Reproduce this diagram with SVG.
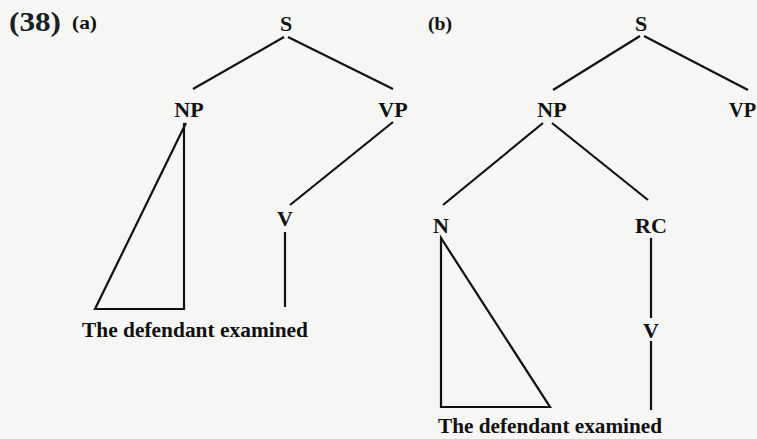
<svg xmlns="http://www.w3.org/2000/svg" width="757" height="439" viewBox="0 0 757 439">
<style>
.bg{fill:#f6f6f4}
.lbl{font-family:"Liberation Serif","Times New Roman",serif;font-weight:bold;font-size:22px;fill:#111;text-anchor:middle}
.leaf{font-family:"Liberation Serif","Times New Roman",serif;font-weight:bold;font-size:22px;fill:#111}
.num{font-family:"Liberation Serif","Times New Roman",serif;font-weight:bold;font-size:27px;fill:#1a1f22}
.sub{font-family:"Liberation Serif","Times New Roman",serif;font-weight:bold;font-size:19px;fill:#111}
.ln{stroke:#111;stroke-width:2.2;fill:none;stroke-linejoin:miter}
</style>
<rect class="bg" x="0" y="0" width="757" height="439"/>
<text class="num" x="9" y="31" textLength="52" lengthAdjust="spacingAndGlyphs">(38)</text>
<text class="sub" x="72" y="29" textLength="25" lengthAdjust="spacingAndGlyphs">(a)</text>
<text class="sub" x="428" y="30" textLength="24" lengthAdjust="spacingAndGlyphs">(b)</text>
<g id="connectors">
  <line class="ln" x1="284" y1="37" x2="193" y2="89"/>
  <line class="ln" x1="288" y1="37" x2="393" y2="89"/>
  <path class="ln" d="M186,123 L95,309 L184,309 L184,123"/>
  <line class="ln" x1="393" y1="122" x2="290" y2="205"/>
  <line class="ln" x1="285" y1="232" x2="285" y2="307"/>
  <line class="ln" x1="640" y1="36" x2="553" y2="90"/>
  <line class="ln" x1="644" y1="36" x2="748" y2="90"/>
  <line class="ln" x1="543" y1="123" x2="443" y2="205"/>
  <line class="ln" x1="552" y1="123" x2="648" y2="200"/>
  <path class="ln" d="M441,238 L441,407 L550,407 Z"/>
  <line class="ln" x1="651" y1="238" x2="651" y2="318"/>
  <line class="ln" x1="651" y1="341" x2="651" y2="410"/>
</g>
<g id="a-S"><text class="lbl" x="286" y="31">S</text></g>
<g id="a-NP"><text class="lbl" x="189" y="117">NP</text></g>
<g id="a-VP"><text class="lbl" x="393" y="117">VP</text></g>
<g id="a-V"><text class="lbl" x="285" y="226">V</text></g>
<g id="a-leaf"><text class="leaf" x="82" y="337" textLength="226" lengthAdjust="spacingAndGlyphs">The defendant examined</text></g>
<g id="b-S"><text class="lbl" x="641" y="31">S</text></g>
<g id="b-NP"><text class="lbl" x="552" y="117">NP</text></g>
<g id="b-VP"><text class="lbl" x="729" y="117" style="text-anchor:start" textLength="27" lengthAdjust="spacingAndGlyphs">VP</text></g>
<g id="b-N"><text class="lbl" x="441" y="233">N</text></g>
<g id="b-RC"><text class="lbl" x="651" y="233">RC</text></g>
<g id="b-V"><text class="lbl" x="651" y="338">V</text></g>
<g id="b-leaf"><text class="leaf" x="438" y="433" textLength="224" lengthAdjust="spacingAndGlyphs">The defendant examined</text></g>
</svg>
